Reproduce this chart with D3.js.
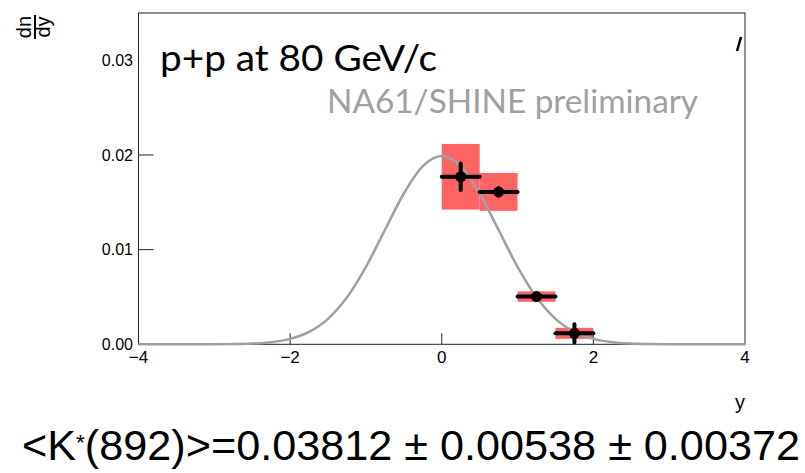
<!DOCTYPE html>
<html><head><meta charset="utf-8">
<script src="https://cdn.jsdelivr.net/npm/d3@7"></script>
<style>html,body{margin:0;padding:0;background:#fff;}svg{display:block;}</style>
</head><body>
<svg id="c" width="805" height="473"></svg>
<script>
// ---- data ----
const binLow = [0.0, 0.5, 1.0, 1.5];
const binHigh = [0.5, 1.0, 1.5, 2.0];
const yCenter = [0.25, 0.75, 1.25, 1.75];
const dndy = [0.01770, 0.01610, 0.00504, 0.00116];
const statErr = [0.00140, 0.00040, 0.00030, 0.00097];
const sysErr = [0.00347, 0.00200, 0.00055, 0.00058];
const curveX = [-4,-3.75,-3.5,-3.25,-3,-2.75,-2.5,-2.25,-2,-1.75,-1.5,-1.25,-1,-0.75,-0.5,-0.25,0,
                0.25,0.5,0.75,1,1.25,1.5,1.75,2,2.25,2.5,2.75,3,3.25,3.5,3.75,4];
const curveY = [0,0,0,0.000001,0.000007,0.000024,0.000077,0.00022,0.00057,0.00131,0.00269,0.00496,0.00818,0.01207,0.01593,0.01882,0.01990,
                0.01882,0.01593,0.01207,0.00818,0.00496,0.00269,0.00131,0.00057,0.00022,0.000077,0.000024,0.000007,0.000001,0,0,0];
const xTicks = [-4, -2, 0, 2, 4];
const yTicks = [0, 0.01, 0.02, 0.03];
const yTickLabels = ["0.00", "0.01", "0.02", "0.03"];

const svg = d3.select("#c");
const L = 138.5, R = 745, T = 13, B = 344.3;
const x = d3.scaleLinear().domain([-4, 4]).range([L, R]);
const y = d3.scaleLinear().domain([0, 0.035]).range([B, T]);

// frame
svg.append("rect").attr("x", L).attr("y", T).attr("width", R - L).attr("height", B - T)
  .attr("fill", "none").attr("stroke", "#222").attr("stroke-width", 1);

// y axis ticks (inside)
const yAx = svg.append("g");
yTicks.forEach((v, i) => {
  if (v > 0 && v < 0.03) {
    yAx.append("line").attr("x1", L).attr("x2", L + 15).attr("y1", y(v)).attr("y2", y(v))
      .attr("stroke", "#222").attr("stroke-width", 1);
  }
  yAx.append("text").attr("x", 133).attr("y", y(v)).attr("dy", "0.35em")
    .attr("text-anchor", "end").attr("font-family", "Liberation Sans, Arial, sans-serif")
    .attr("font-size", 16).attr("fill", "#000").text(yTickLabels[i]);
});

// x axis ticks
const xAx = svg.append("g");
xTicks.forEach(v => {
  if (v > -4 && v < 4) {
    xAx.append("line").attr("x1", x(v)).attr("x2", x(v)).attr("y1", B).attr("y2", B - 11)
      .attr("stroke", "#222").attr("stroke-width", 1);
  }
  xAx.append("text").attr("x", x(v)).attr("y", 363)
    .attr("text-anchor", "middle").attr("font-family", "Liberation Sans, Arial, sans-serif")
    .attr("font-size", 17).attr("fill", "#000").text(v < 0 ? "\u2212" + Math.abs(v) : String(v));
});

// fit curve
const line = d3.line().x((d, i) => x(curveX[i])).y((d) => y(d)).curve(d3.curveMonotoneX);

// systematic boxes
svg.append("g").selectAll("rect").data(dndy).join("rect")
  .attr("x", (d, i) => x(binLow[i])).attr("width", (d, i) => x(binHigh[i]) - x(binLow[i]))
  .attr("y", (d, i) => y(d + sysErr[i])).attr("height", (d, i) => y(d - sysErr[i]) - y(d + sysErr[i]))
  .attr("fill", "#ff6464");

svg.append("path").attr("d", line(curveY)).attr("fill", "none")
  .attr("stroke", "#a0a0a0").attr("stroke-width", 2.5);

// error bars
const eb = svg.append("g");
dndy.forEach((d, i) => {
  eb.append("line").attr("x1", x(binLow[i])).attr("x2", x(binHigh[i]))
    .attr("y1", y(d)).attr("y2", y(d)).attr("stroke", "#000").attr("stroke-width", 4)
    .attr("stroke-linecap", "round");
  eb.append("line").attr("x1", x(yCenter[i])).attr("x2", x(yCenter[i]))
    .attr("y1", y(d + statErr[i])).attr("y2", y(d - statErr[i])).attr("stroke", "#000").attr("stroke-width", 4)
    .attr("stroke-linecap", "round");
  eb.append("circle").attr("cx", x(yCenter[i])).attr("cy", y(d)).attr("r", 5.5).attr("fill", "#000");
});

// y axis title (fraction dn/dy, rotated)
const t = svg.append("g").attr("transform", "translate(35,27) rotate(-90)");
t.append("text").attr("x", 0).attr("y", -4).attr("text-anchor", "middle")
  .attr("font-family", "Liberation Sans, Arial, sans-serif").attr("font-size", 20).text("dn");
t.append("line").attr("x1", -12).attr("x2", 12).attr("y1", 0).attr("y2", 0).attr("stroke", "#000").attr("stroke-width", 2);
t.append("text").attr("x", 0).attr("y", 15).attr("text-anchor", "middle")
  .attr("font-family", "Liberation Sans, Arial, sans-serif").attr("font-size", 20).text("dy");

svg.append("text").attr("x", 160).attr("y", 71)
  .attr("font-family", "Lato, 'Open Sans', sans-serif").attr("font-size", 37).attr("fill", "#000")
  .attr("textLength", 277).attr("lengthAdjust", "spacingAndGlyphs")
  .text("p+p at 80 GeV/c");
svg.append("text").attr("x", 327).attr("y", 113)
  .attr("font-family", "Lato, 'Open Sans', sans-serif").attr("font-size", 32).attr("fill", "#a0a0a0")
  .attr("textLength", 371).attr("lengthAdjust", "spacingAndGlyphs")
  .text("NA61/SHINE preliminary");

// clipped glyph fragment at top right
svg.append("line").attr("x1", 741).attr("y1", 37).attr("x2", 737).attr("y2", 51)
  .attr("stroke", "#000").attr("stroke-width", 2.5);

// x axis title
svg.append("text").attr("x", 740).attr("y", 409).attr("text-anchor", "middle")
  .attr("font-family", "Liberation Sans, Arial, sans-serif").attr("font-size", 20).text("y");

// bottom result text
const bt = svg.append("text").attr("x", 22).attr("y", 460)
  .attr("font-family", "'Liberation Sans Narrow', 'Arial Narrow', 'Liberation Sans', sans-serif")
  .attr("font-size", 42).attr("fill", "#000")
  .attr("textLength", 778).attr("lengthAdjust", "spacingAndGlyphs");
bt.append("tspan").text("<K");
bt.append("tspan").attr("font-size", 22).attr("dy", -10).text("*");
bt.append("tspan").attr("dy", 10).text("(892)>=0.03812 \u00b1 0.00538 \u00b1 0.00372");
</script>
</body></html>
